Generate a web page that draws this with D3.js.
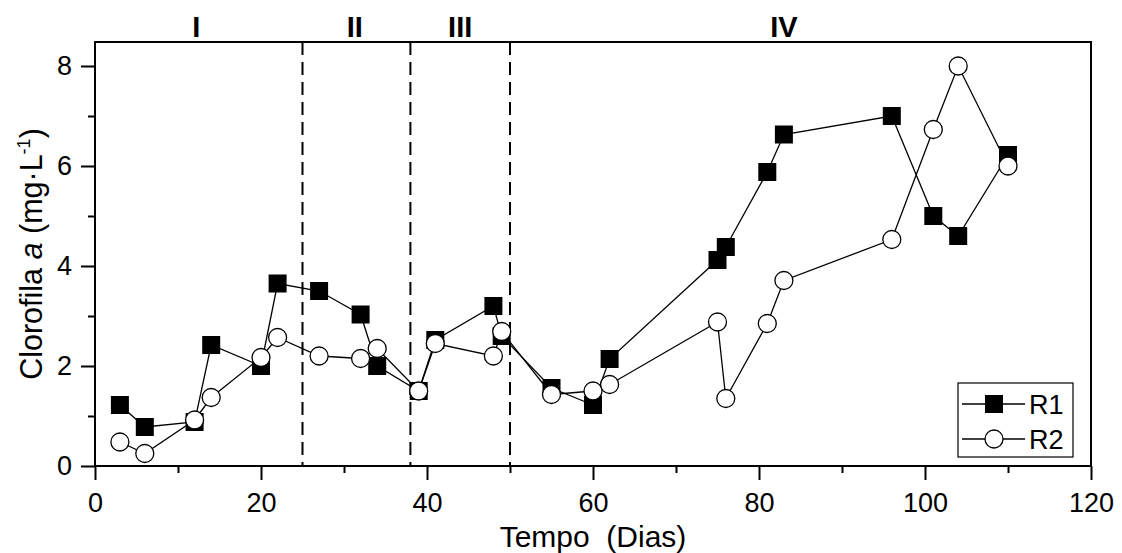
<!DOCTYPE html>
<html lang="pt">
<head>
<meta charset="utf-8">
<title>Clorofila a</title>
<script src="https://d3js.org/d3.v7.min.js"></script>
<style>
  body { margin: 0; background: #fff; }
  svg { font-family: "Liberation Sans", Arial, sans-serif; }
</style>
</head>
<body>
<div id="chart"></div>
<script>
// dias de amostragem
var dias = [3, 6, 12, 14, 20, 22, 27, 32, 34, 39, 41, 48, 49, 55, 60, 62, 75, 76, 81, 83, 96, 101, 104, 110];
var r1 = [1.22, 0.78, 0.88, 2.42, 2.0, 3.65, 3.5, 3.03, 2.0, 1.5, 2.52, 3.2, 2.6, 1.56, 1.22, 2.14, 4.12, 4.38, 5.88, 6.63, 7.0, 5.0, 4.6, 6.22];
var r2 = [0.48, 0.25, 0.92, 1.37, 2.17, 2.57, 2.2, 2.15, 2.35, 1.5, 2.45, 2.2, 2.69, 1.43, 1.5, 1.63, 2.88, 1.35, 2.85, 3.71, 4.53, 6.73, 8.0, 6.0];
var fases = ["I", "II", "III", "IV"];
var faseX = [12.2, 31.3, 44, 83];
var limites = [25, 38, 50];
var xTicks = [0, 20, 40, 60, 80, 100, 120];
var yTicks = [0, 2, 4, 6, 8];

var W = 1122, H = 553;
var m = { left: 95, right: 31, top: 42, bottom: 87 };

var svg = d3.select("#chart").append("svg")
    .attr("width", W).attr("height", H);

var x = d3.scaleLinear().domain([0, 120]).range([m.left, W - m.right]);
var y = d3.scaleLinear().domain([0, 8.48]).range([H - m.bottom, m.top]);

// minor ticks
svg.append("g")
    .attr("transform", "translate(0," + y(0) + ")")
    .call(d3.axisBottom(x).tickValues(d3.range(10, 120, 20)).tickSize(7).tickFormat(""))
    .call(g => g.select(".domain").remove())
    .selectAll("line").attr("stroke-width", 2);
svg.append("g")
    .attr("transform", "translate(" + x(0) + ",0)")
    .call(d3.axisLeft(y).tickValues([1, 3, 5, 7]).tickSize(7).tickFormat(""))
    .call(g => g.select(".domain").remove())
    .selectAll("line").attr("stroke-width", 2);

// major axes
var xAxis = svg.append("g")
    .attr("transform", "translate(0," + y(0) + ")")
    .call(d3.axisBottom(x).tickValues(xTicks).tickSize(14).tickPadding(13).tickSizeOuter(0));
var yAxis = svg.append("g")
    .attr("transform", "translate(" + x(0) + ",0)")
    .call(d3.axisLeft(y).tickValues(yTicks).tickSize(14).tickPadding(9).tickSizeOuter(0));
[xAxis, yAxis].forEach(function (a) {
    a.select(".domain").remove();
    a.selectAll("line").attr("stroke-width", 2);
    a.selectAll("text").attr("fill", "#000")
        .style("font-family", "Liberation Sans, Arial, sans-serif")
        .style("font-size", "27px");
});

// frame
svg.append("rect")
    .attr("x", x(0)).attr("y", y(8.48))
    .attr("width", x(120) - x(0)).attr("height", y(0) - y(8.48))
    .attr("fill", "none").attr("stroke", "#000").attr("stroke-width", 2);

// phase boundaries
svg.selectAll(".fase-lim").data(limites).enter().append("line")
    .attr("x1", d => x(d)).attr("x2", d => x(d))
    .attr("y1", y(8.48)).attr("y2", y(0))
    .attr("stroke", "#000").attr("stroke-width", 2)
    .attr("stroke-dasharray", "13,7");

svg.selectAll(".fase").data(fases).enter().append("text")
    .attr("x", (d, i) => x(faseX[i])).attr("y", 37)
    .attr("text-anchor", "middle")
    .style("font-size", "29px").style("font-weight", "bold")
    .text(d => d);

// series
var line = d3.line().x(d => x(d[0])).y(d => y(d[1]));
var d1 = dias.map((d, i) => [d, r1[i]]);
var d2 = dias.map((d, i) => [d, r2[i]]);
var sq = 18, rc = 9;

svg.append("path").datum(d1).attr("d", line)
    .attr("fill", "none").attr("stroke", "#000").attr("stroke-width", 1.3);
svg.selectAll(".r1").data(d1).enter().append("rect")
    .attr("x", d => x(d[0]) - sq / 2).attr("y", d => y(d[1]) - sq / 2)
    .attr("width", sq).attr("height", sq).attr("fill", "#000");

svg.append("path").datum(d2).attr("d", line)
    .attr("fill", "none").attr("stroke", "#000").attr("stroke-width", 1.3);
svg.selectAll(".r2").data(d2).enter().append("circle")
    .attr("cx", d => x(d[0])).attr("cy", d => y(d[1])).attr("r", rc)
    .attr("fill", "#fff").attr("stroke", "#000").attr("stroke-width", 1.3);

// axis titles
svg.append("text")
    .attr("x", x(60)).attr("y", 547)
    .attr("text-anchor", "middle").style("font-size", "30px")
    .attr("xml:space", "preserve")
    .text("Tempo  (Dias)");

var yt = svg.append("text")
    .attr("transform", "translate(42," + (y(0) + y(8.48)) / 2 + ") rotate(-90)")
    .attr("text-anchor", "middle").style("font-size", "30.5px");
yt.append("tspan").text("Clorofila ");
yt.append("tspan").style("font-style", "italic").text("a");
yt.append("tspan").text(" (mg·L");
yt.append("tspan").attr("dy", -12).style("font-size", "18px").text("-1");
yt.append("tspan").attr("dy", 12).text(")");

// legend
var lg = svg.append("g").attr("transform", "translate(958,383)");
lg.append("rect").attr("width", 115).attr("height", 74)
    .attr("fill", "#fff").attr("stroke", "#000").attr("stroke-width", 1.2);
var rows = [{ n: "R1", ty: 21 }, { n: "R2", ty: 56 }];
rows.forEach(function (r) {
    lg.append("line").attr("x1", 4).attr("x2", 67).attr("y1", r.ty).attr("y2", r.ty)
        .attr("stroke", "#000").attr("stroke-width", 1.3);
    if (r.n === "R1") {
        lg.append("rect").attr("x", 36 - sq / 2).attr("y", r.ty - sq / 2)
            .attr("width", sq).attr("height", sq).attr("fill", "#000");
    } else {
        lg.append("circle").attr("cx", 36).attr("cy", r.ty).attr("r", rc)
            .attr("fill", "#fff").attr("stroke", "#000").attr("stroke-width", 1.3);
    }
    lg.append("text").attr("x", 71).attr("y", r.ty + 10)
        .style("font-size", "27px").text(r.n);
});
</script>
</body>
</html>
